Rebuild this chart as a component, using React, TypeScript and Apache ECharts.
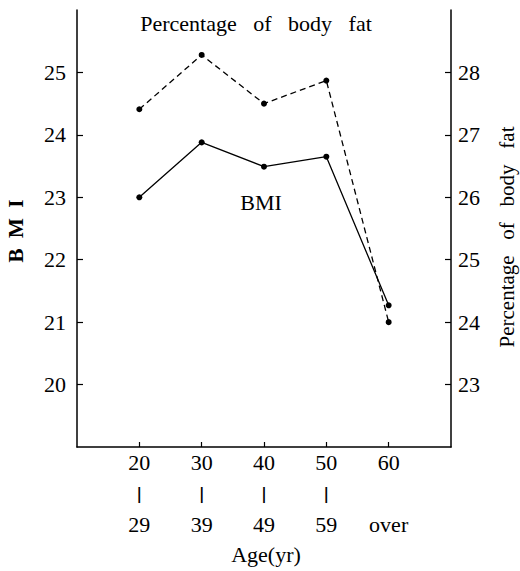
import React, { useEffect, useRef } from "react";
import * as echarts from "echarts";

const ages = [20, 30, 40, 50, 60];
const ageLabelsTop = ["20", "30", "40", "50", "60"];
const ageLabelsBottom = ["29", "39", "49", "59", "over"];
const bmi = [23.0, 23.88, 23.49, 23.65, 21.27];
const bodyFat = [27.41, 28.28, 27.5, 27.87, 24.0];
const bmiTicks = [20, 21, 22, 23, 24, 25];
const fatTicks = [23, 24, 25, 26, 27, 28];

const FONT = "'Liberation Serif', 'DejaVu Serif', serif";
const FS = 22;

export default function App() {
  const ref = useRef<HTMLDivElement>(null);
  useEffect(() => {
    if (!ref.current) return;
    const chart = echarts.init(ref.current, undefined, { renderer: "svg" });
    const axisLine = { show: true, lineStyle: { color: "#000", width: 1.5 } };
    chart.setOption({
      animation: false,
      backgroundColor: "#fff",
      grid: { left: 77, right: 69, top: 10, bottom: 124 },
      xAxis: {
        type: "value",
        min: 10,
        max: 70,
        interval: 10,
        splitLine: { show: false },
        axisLine,
        axisTick: { show: true, inside: true, length: 5, customValues: ages, lineStyle: { color: "#000", width: 1.2 } },
        axisLabel: {
          customValues: ages,
          margin: 0,
          color: "#000",
          fontFamily: FONT,
          fontSize: FS,
          lineHeight: 31,
          formatter: (v: number) => {
            const i = ages.indexOf(v);
            if (i < 0) return "";
            const mid = i === ages.length - 1 ? "{b| }" : "{b||}";
            return "{a|" + ageLabelsTop[i] + "}\n" + mid + "\n{a|" + ageLabelsBottom[i] + "}";
          },
          rich: {
            a: { fontFamily: FONT, fontSize: FS, color: "#000", lineHeight: 31 },
            b: { fontFamily: "'DejaVu Sans', sans-serif", fontSize: 15, color: "#000", lineHeight: 31, fontWeight: "bold" },
          },
        },
      },
      yAxis: [
        {
          type: "value",
          min: 19,
          max: 26,
          interval: 1,
          position: "left",
          splitLine: { show: false },
          axisLine,
          axisTick: { show: true, inside: true, length: 6, customValues: bmiTicks, lineStyle: { color: "#000", width: 1.2 } },
          axisLabel: { customValues: bmiTicks, margin: 11, color: "#000", fontFamily: FONT, fontSize: FS },
        },
        {
          type: "value",
          min: 22,
          max: 29,
          interval: 1,
          position: "right",
          splitLine: { show: false },
          axisLine,
          axisTick: { show: true, inside: true, length: 6, customValues: fatTicks, lineStyle: { color: "#000", width: 1.2 } },
          axisLabel: { customValues: fatTicks, margin: 7, color: "#000", fontFamily: FONT, fontSize: FS },
        },
      ],
      series: [
        {
          name: "BMI",
          type: "line",
          yAxisIndex: 0,
          data: ages.map((a, i) => [a, bmi[i]]),
          symbol: "circle",
          symbolSize: 6,
          itemStyle: { color: "#000" },
          lineStyle: { color: "#000", width: 1.3, type: "solid" },
        },
        {
          name: "Percentage of body fat",
          type: "line",
          yAxisIndex: 1,
          data: ages.map((a, i) => [a, bodyFat[i]]),
          symbol: "circle",
          symbolSize: 6,
          itemStyle: { color: "#000" },
          lineStyle: { color: "#000", width: 1.3, type: [6, 4] },
        },
      ],
      graphic: [
        {
          type: "text",
          x: 256,
          y: 23,
          style: {
            text: "Percentage   of   body   fat",
            fontFamily: FONT,
            fontSize: FS,
            fill: "#000",
            align: "center",
            verticalAlign: "middle",
          },
        },
        {
          type: "text",
          x: 261,
          y: 202,
          style: { text: "BMI", fontFamily: FONT, fontSize: FS, fill: "#000", align: "center", verticalAlign: "middle" },
        },
        {
          type: "text",
          x: 16,
          y: 231,
          rotation: Math.PI / 2,
          style: {
            text: "B  M  I",
            fontFamily: FONT,
            fontSize: 21,
            fontWeight: "bold",
            fill: "#000",
            align: "center",
            verticalAlign: "middle",
          },
        },
        {
          type: "text",
          x: 507,
          y: 237,
          rotation: Math.PI / 2,
          style: {
            text: "Percentage   of   body   fat",
            fontFamily: FONT,
            fontSize: 21,
            fill: "#000",
            align: "center",
            verticalAlign: "middle",
          },
        },
        {
          type: "text",
          x: 266,
          y: 554,
          style: { text: "Age(yr)", fontFamily: FONT, fontSize: FS, fill: "#000", align: "center", verticalAlign: "middle" },
        },
      ],
    });
    return () => chart.dispose();
  }, []);
  return <div ref={ref} style={{ position: "absolute", left: 0, top: 0, width: 520, height: 571 }} />;
}
